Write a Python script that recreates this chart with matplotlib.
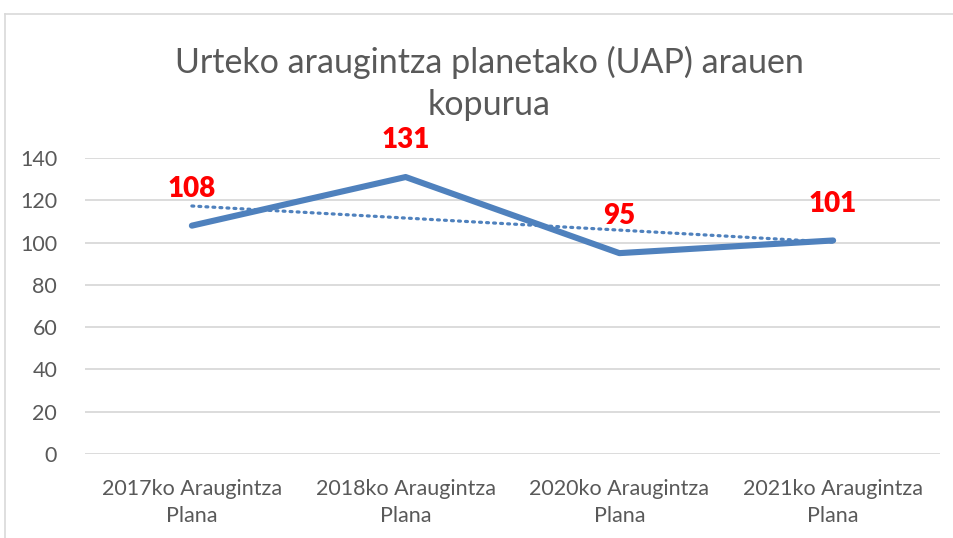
import numpy as np
import matplotlib
matplotlib.use("Agg")
import matplotlib.pyplot as plt
from matplotlib.lines import Line2D

plt.rcParams['font.family'] = ['Lato', 'DejaVu Sans']

categories = ["2017ko Araugintza\nPlana", "2018ko Araugintza\nPlana",
              "2020ko Araugintza\nPlana", "2021ko Araugintza\nPlana"]
values = [108, 131, 95, 101]
yticks = [0, 20, 40, 60, 80, 100, 120, 140]
title = "Urteko araugintza planetako (UAP) arauen\nkopurua"

W, H = 954, 538
fig = plt.figure(figsize=(W / 100, H / 100), dpi=100)
ax = fig.add_axes([85 / W, 1 - 454 / H, (940 - 85) / W, (454 - 158) / H])

x = np.arange(len(values))
blue = "#4F81BD"
ax.plot(x, values, color=blue, lw=4.4, solid_capstyle='round', zorder=3)

# linear trendline (as in the spreadsheet chart)
coef = np.polyfit(x, values, 1)
trend = np.polyval(coef, x)
ax.plot(x, trend, color=blue, lw=2.3, linestyle=(0, (0.6, 1.6)),
        dash_capstyle='round', zorder=2)

for xi, v in zip(x, values):
    ax.annotate(str(v), (xi, v), xytext=(0, 26.6), textcoords='offset points',
                ha='center', va='center', color='#FF0000', fontsize=20,
                fontweight='heavy', zorder=4)

ax.set_xlim(-0.5, len(values) - 0.5)
ax.set_ylim(0, 140)
ax.set_yticks(yticks)
ax.set_xticks(x)
ax.set_xticklabels(categories, linespacing=1.45)
ax.tick_params(axis='both', length=0, labelsize=15.5, colors='#595959')
ax.tick_params(axis='x', pad=18)
ax.tick_params(axis='y', pad=20)
ax.grid(axis='y', color='#D9D9D9', lw=1.3)
ax.set_axisbelow(True)
for s in ax.spines.values():
    s.set_visible(False)

fig.text(489 / W, 1 - 83 / H, title, ha='center', va='center', fontsize=24.5,
         color='#595959', linespacing=1.38)

# chart area border
fig.add_artist(Line2D([5 / W, 5 / W], [0, 1 - 14 / H], color='#D9D9D9', lw=1.2))
fig.add_artist(Line2D([5 / W, 1], [1 - 14 / H, 1 - 14 / H], color='#D9D9D9', lw=1.2))

fig.savefig("out.png", dpi=100, facecolor='white')
